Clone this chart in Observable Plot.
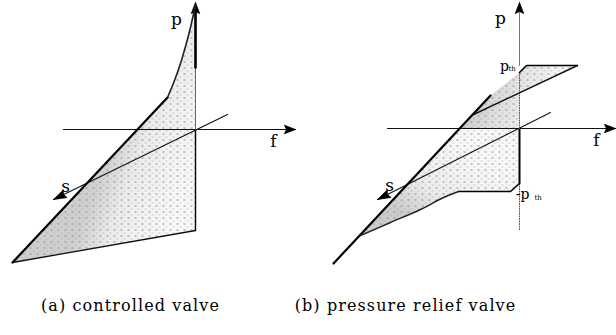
<!DOCTYPE html>
<html><head><meta charset="utf-8">
<script src="https://cdn.jsdelivr.net/npm/d3@7"></script>
<script src="https://cdn.jsdelivr.net/npm/@observablehq/plot@0.6"></script>
<style>body{margin:0;background:#fff}</style>
</head><body><div id="chart"></div>
<script>
// Diagram coordinates of the figure (x to the right, y downward)

// ---- panel (a) controlled valve ----
const aAxisF = [[63,129],[295,129]];
const aAxisP = [[195,230],[195,2]];
const aAxisS = [[227,114],[53,199]];
const aSurface = [[12,262],[195,230],[195,5],[192,18],[189,31],[185,46],[180,63],[174,80],[167,97]];
const aBottomEdge = [[12,262],[195,230]];
const aBoldEdge = [[12,262],[167,97]];
const aCurveEdge = [[167,97],[174,80],[180,63],[185,46],[189,31],[192,18],[195,5]];
const aBoldP = [[195,12],[195,67]];
const aGrayP = [[195,67],[195,129]];
const aSolidP = [[195,129],[195,230]];

// ---- panel (b) pressure relief valve ----
const bAxisF = [[387,128],[615,128]];
const bAxisP = [[519,230],[519,2]];
const bAxisS = [[550,112],[377,199]];
const bBoldEdge = [[333,263],[490,95]];
const bUpperStep = [[577,65],[526,65],[519,72]];
const bUpperSlant = [[577,65],[471,115]];
const bLowerStep = [[519,183],[510,191],[458,191]];
const bLowerCurve = [[458,191],[443,197],[420,209],[390,222],[360,235]];
const bUpperSurface = [[459,128],[490,95],[519,72],[526,65],[577,65],[519,93],[519,128]];
const bLowerSurface = [[459,128],[360,235],[390,222],[420,209],[443,197],[458,191],[510,191],[519,183],[519,128]];
const bSolidP = [[519,128],[519,183]];
const bDottedP = [[[519,72],[519,128]],[[519,183],[519,230]]];
const bGrayP = [[519,12],[519,65]];

// ---- texts ----
const axisLabels = ["p","f","s","p","f","s"];
const axisLabelX = [176,273,65,500,596,389];
const axisLabelY = [19,141,186,18,140,185];
const thresholdLabels = ["p","-p"];
const thresholdX = [504,522];
const thresholdY = [66,194];
const thresholdSub = ["th","th"];
const thresholdSubX = [508,534];
const thresholdSubY = [68,197];
const captions = ["(a) controlled valve","(b) pressure relief valve"];
const captionX = [130,405];
const captionY = [305,305];

// arrowheads derived from the axis segments
function head(seg, len, half) {
  const [[x0,y0],[x1,y1]] = seg;
  const dx = x1-x0, dy = y1-y0, n = Math.hypot(dx,dy);
  const ux = dx/n, uy = dy/n;
  const bx = x1-ux*len, by = y1-uy*len;
  return [[x1,y1],[bx-uy*half,by+ux*half],[bx+ux*2,by+uy*2],[bx+uy*half,by-ux*half],[x1,y1]];
}
const axes = [aAxisF,aAxisP,aAxisS,bAxisF,bAxisP,bAxisS];
const heads = axes.map((s,i) => head(s, i%3===2 ? 13 : 11, 4.2).map(p => ({x:p[0], y:p[1], id:i}))).flat();

const pts = arr => arr.map(p => ({x:p[0], y:p[1]}));
const segs = list => list.map((s,i) => s.map(p => ({x:p[0], y:p[1], id:i}))).flat();
const XY = {x:"x", y:"y"};

const serif = "DejaVu Serif";

const chart = Plot.plot({
  width: 616, height: 335, margin: 0,
  x: {domain:[0,616], range:[0,616], axis:null},
  y: {domain:[0,335], range:[0,335], axis:null},
  style: {background:"#fff", fontFamily: serif},
  marks: [
    // shaded surfaces
    Plot.line(pts(aSurface), {...XY, fill:"url(#gradA)", stroke:"none"}),
    Plot.line(pts(aSurface), {...XY, fill:"url(#stip)", stroke:"none"}),
    Plot.line(pts(bUpperSurface), {...XY, fill:"url(#gradB)", stroke:"none"}),
    Plot.line(pts(bUpperSurface), {...XY, fill:"url(#stip)", stroke:"none"}),
    Plot.line(pts(bLowerSurface), {...XY, fill:"url(#gradC)", stroke:"none"}),
    Plot.line(pts(bLowerSurface), {...XY, fill:"url(#stip)", stroke:"none"}),
    // axes
    Plot.line(segs([aAxisF, aAxisS, bAxisF, bAxisS]), {...XY, z:"id", stroke:"#111", strokeWidth:1.1}),
    Plot.line(pts(aSolidP), {...XY, stroke:"#000", strokeWidth:1.4}),
    Plot.line(pts(aGrayP), {...XY, stroke:"#666", strokeWidth:1}),
    Plot.line(pts(aBoldP), {...XY, stroke:"#000", strokeWidth:2.6}),
    Plot.line(pts(bGrayP), {...XY, stroke:"#777", strokeWidth:1}),
    Plot.line(pts(bSolidP), {...XY, stroke:"#000", strokeWidth:2}),
    Plot.line(segs(bDottedP), {...XY, z:"id", stroke:"#555", strokeWidth:1, strokeDasharray:"1,1.5"}),
    Plot.line(heads, {...XY, z:"id", fill:"#000", stroke:"#000", strokeWidth:0.8}),
    // edges
    Plot.line(pts(aBottomEdge), {...XY, stroke:"#111", strokeWidth:1.3}),
    Plot.line(pts(aBoldEdge), {...XY, stroke:"#000", strokeWidth:2.2}),
    Plot.line(pts(aCurveEdge), {...XY, stroke:"#222", strokeWidth:1.6, curve:"catmull-rom"}),
    Plot.line(pts(bBoldEdge), {...XY, stroke:"#000", strokeWidth:2.2}),
    Plot.line(pts(bUpperStep), {...XY, stroke:"#000", strokeWidth:1.6}),
    Plot.line(pts(bUpperSlant), {...XY, stroke:"#111", strokeWidth:1.4}),
    Plot.line(pts(bLowerStep), {...XY, stroke:"#000", strokeWidth:1.6}),
    Plot.line(pts(bLowerCurve), {...XY, stroke:"#222", strokeWidth:1.4, curve:"catmull-rom"}),
    // labels
    Plot.text(axisLabels, {x:(d,i)=>axisLabelX[i], y:(d,i)=>axisLabelY[i], text:d=>d, fontSize:17, fontFamily:serif, fill:"#000"}),
    Plot.text(thresholdLabels, {x:(d,i)=>thresholdX[i], y:(d,i)=>thresholdY[i], text:d=>d, fontSize:14, fontFamily:serif, fill:"#000", textAnchor:(d,i)=>i===0?"end":"start"}),
    Plot.text(thresholdSub, {x:(d,i)=>thresholdSubX[i], y:(d,i)=>thresholdSubY[i], text:d=>d, fontSize:7, fontFamily:serif, fill:"#000", textAnchor:"start"}),
    Plot.text(captions, {x:(d,i)=>captionX[i], y:(d,i)=>captionY[i], text:d=>d, fontSize:16, fontFamily:serif, fill:"#000"})
  ]
});

// widen the caption lettering a little (reference uses a wide serif face)
chart.querySelectorAll("text").forEach(t => {
  if (captions.includes(t.textContent)) t.setAttribute("letter-spacing", "1.1");
});

// stipple pattern and soft gradients for the shaded surfaces
const defs = document.createElementNS("http://www.w3.org/2000/svg","defs");
defs.innerHTML = `
<pattern id="stip" width="7" height="6" patternUnits="userSpaceOnUse">
  <rect x="1" y="1" width="2" height="1" fill="#8a8a8a"/>
  <rect x="4.5" y="4" width="1" height="1" fill="#a0a0a0"/>
</pattern>
<linearGradient id="gradA" gradientUnits="userSpaceOnUse" x1="120" y1="120" x2="200" y2="150">
  <stop offset="0" stop-color="#cfcfcf"/><stop offset="0.35" stop-color="#ececec"/><stop offset="1" stop-color="#f8f8f8"/>
</linearGradient>
<linearGradient id="gradB" gradientUnits="userSpaceOnUse" x1="470" y1="90" x2="540" y2="120">
  <stop offset="0" stop-color="#c8c8c8"/><stop offset="0.5" stop-color="#e2e2e2"/><stop offset="1" stop-color="#f6f6f6"/>
</linearGradient>
<linearGradient id="gradC" gradientUnits="userSpaceOnUse" x1="420" y1="225" x2="470" y2="150">
  <stop offset="0" stop-color="#cccccc"/><stop offset="0.4" stop-color="#ececec"/><stop offset="1" stop-color="#f8f8f8"/>
</linearGradient>`;
chart.insertBefore(defs, chart.firstChild);
document.getElementById("chart").appendChild(chart);
</script>
</body></html>
